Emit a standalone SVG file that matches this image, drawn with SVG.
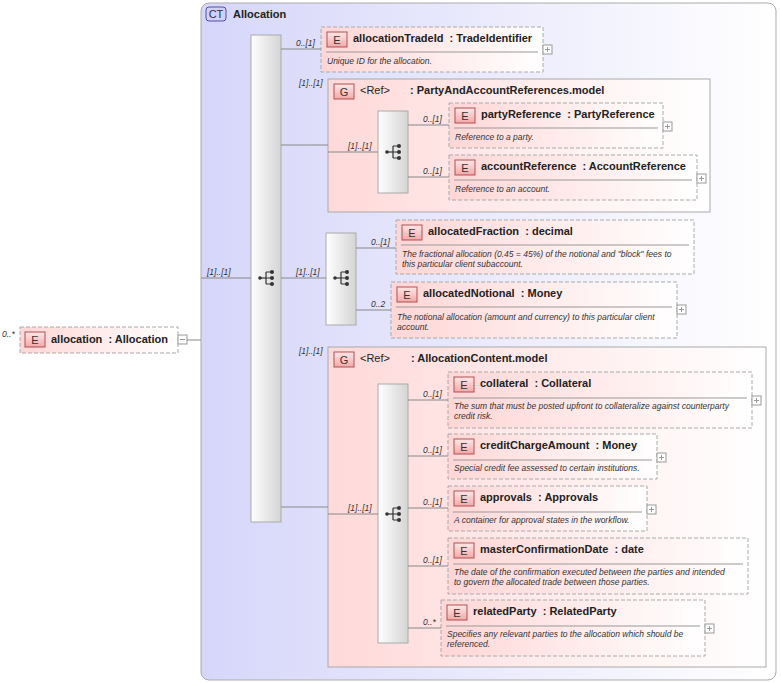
<svg xmlns="http://www.w3.org/2000/svg" width="781" height="683" viewBox="0 0 781 683">
<defs>
<linearGradient id="ct" x1="0" y1="0" x2="1" y2="0"><stop offset="0" stop-color="#d6d6fa"/><stop offset="1" stop-color="#ffffff"/></linearGradient>
<linearGradient id="el" x1="0" y1="0" x2="1" y2="0"><stop offset="0" stop-color="#ffd6d6"/><stop offset="1" stop-color="#ffffff"/></linearGradient>
<linearGradient id="gr" x1="0" y1="0" x2="1" y2="0"><stop offset="0" stop-color="#ffd9d9"/><stop offset="1" stop-color="#ffffff"/></linearGradient>
<linearGradient id="bar" x1="0" y1="0" x2="1" y2="0"><stop offset="0" stop-color="#ffffff"/><stop offset="1" stop-color="#d4d4d4"/></linearGradient>
<linearGradient id="badge" x1="0" y1="0" x2="0" y2="1"><stop offset="0" stop-color="#ffe8e8"/><stop offset="1" stop-color="#f4a8a8"/></linearGradient>
<g id="seqicon"><line x1="-6" y1="0" x2="0" y2="0" stroke="#333" stroke-width="1.2"/><circle cx="-6" cy="0" r="1.8" fill="#333"/><path d="M0,-6V6M0,-6H5M0,0H5M0,6H5" stroke="#333" fill="none" stroke-width="1.2"/><circle cx="6" cy="-6" r="2" fill="#333"/><circle cx="6" cy="0" r="2" fill="#333"/><circle cx="6" cy="6" r="2" fill="#333"/></g>
<g id="plus"><rect x="0" y="0" width="9" height="9" fill="#fff" stroke="#999"/><path d="M2,4.5H7M4.5,2V7" stroke="#999"/></g>
</defs>
<style>
.el{fill:url(#el);stroke:#aaa;stroke-dasharray:4,2}
.grp{fill:url(#gr);stroke:#aaa}
.bar{fill:url(#bar);stroke:#aaa}
.bd{fill:url(#badge);stroke:#b05050}
.bt{font-family:"Liberation Sans",Arial,sans-serif;font-size:11px;fill:#333;text-anchor:middle}
.nm{font-family:"Liberation Sans",Arial,sans-serif;font-size:11px;font-weight:bold;fill:#222;white-space:pre}
.gn{font-family:"Liberation Sans",Arial,sans-serif;font-size:11px;fill:#222}
.doc{font-family:"Liberation Sans",Arial,sans-serif;font-size:8.5px;font-style:italic;fill:#333}
.m{font-family:"Liberation Sans",Arial,sans-serif;font-size:8.5px;font-style:italic;fill:#333}
.sep{stroke:#999}
.c{stroke:#888;fill:none}
</style>
<g id="ct-allocation">
<rect x="201" y="3" width="575" height="677" rx="8" fill="url(#ct)" stroke="#aaa"/>
<rect x="206" y="7" width="20" height="14" rx="3" fill="#d0d0ff" stroke="#5050a0"/><text class="bt" x="216" y="18">CT</text>
<text class="nm" x="233" y="18">Allocation</text>
</g>
<g id="allocation">
<rect class="el" x="20" y="327" width="158" height="26"/>
<rect class="bd" x="25" y="332" width="20" height="15"/><text class="bt" x="35" y="344">E</text>
<text class="nm" x="51" y="343">allocation  : Allocation</text>
<rect x="178" y="335" width="9" height="9" fill="#fff" stroke="#999"/><path d="M180,339.5H185" stroke="#999"/>
</g>
<g id="seq-main"><rect class="bar" x="251" y="35" width="30" height="487"/><use href="#seqicon" x="266" y="278"/></g>
<g id="allocationTradeId">
<rect class="el" x="321" y="27" width="222" height="45"/>
<rect class="bd" x="327" y="32" width="20" height="15"/><text class="bt" x="337" y="44">E</text>
<text class="nm" x="353" y="42">allocationTradeId  : TradeIdentifier</text>
<line class="sep" x1="326" y1="52" x2="538" y2="52"/>
<text class="doc" x="327" y="64">Unique ID for the allocation.</text>
<use href="#plus" x="543" y="45"/>
</g>
<g id="group-party">
<rect class="grp" x="328" y="79" width="382" height="133"/>
<rect class="bd" x="334" y="84" width="20" height="15"/><text class="bt" x="344" y="96">G</text>
<text class="gn" x="360" y="94">&lt;Ref&gt;</text><text class="nm" x="410" y="94">: PartyAndAccountReferences.model</text>
<rect class="bar" x="378" y="111" width="30" height="82"/><use href="#seqicon" x="393" y="152"/>
</g>
<g id="partyReference">
<rect class="el" x="449" y="103" width="214" height="45"/>
<rect class="bd" x="455" y="108" width="20" height="15"/><text class="bt" x="465" y="120">E</text>
<text class="nm" x="481" y="118">partyReference  : PartyReference</text>
<line class="sep" x1="454" y1="128" x2="658" y2="128"/>
<text class="doc" x="455" y="140">Reference to a party.</text>
<use href="#plus" x="663" y="122"/>
</g>
<g id="accountReference">
<rect class="el" x="449" y="155" width="248" height="45"/>
<rect class="bd" x="455" y="160" width="20" height="15"/><text class="bt" x="465" y="172">E</text>
<text class="nm" x="481" y="170">accountReference  : AccountReference</text>
<line class="sep" x1="454" y1="180" x2="692" y2="180"/>
<text class="doc" x="455" y="192">Reference to an account.</text>
<use href="#plus" x="697" y="174"/>
</g>
<g id="seq-fraction"><rect class="bar" x="326" y="233" width="30" height="92"/><use href="#seqicon" x="341" y="278"/></g>
<g id="allocatedFraction">
<rect class="el" x="396" y="220" width="298" height="54"/>
<rect class="bd" x="402" y="225" width="20" height="15"/><text class="bt" x="412" y="237">E</text>
<text class="nm" x="428" y="235">allocatedFraction  : decimal</text>
<line class="sep" x1="401" y1="245" x2="689" y2="245"/>
<text class="doc" x="402" y="257">The fractional allocation (0.45 = 45%) of the notional and "block" fees to</text>
<text class="doc" x="402" y="267">this particular client subaccount.</text>
</g>
<g id="allocatedNotional">
<rect class="el" x="391" y="282" width="286" height="56"/>
<rect class="bd" x="397" y="287" width="20" height="15"/><text class="bt" x="407" y="299">E</text>
<text class="nm" x="423" y="297">allocatedNotional  : Money</text>
<line class="sep" x1="396" y1="307" x2="672" y2="307"/>
<text class="doc" x="397" y="320">The notional allocation (amount and currency) to this particular client</text>
<text class="doc" x="397" y="330">account.</text>
<use href="#plus" x="677" y="305"/>
</g>
<g id="group-content">
<rect class="grp" x="328" y="347" width="438" height="320"/>
<rect class="bd" x="334" y="352" width="20" height="15"/><text class="bt" x="344" y="364">G</text>
<text class="gn" x="360" y="362">&lt;Ref&gt;</text><text class="nm" x="411" y="362">: AllocationContent.model</text>
<rect class="bar" x="378" y="384" width="30" height="259"/><use href="#seqicon" x="393" y="514"/>
</g>
<g id="collateral">
<rect class="el" x="448" y="372" width="304" height="56"/>
<rect class="bd" x="454" y="377" width="20" height="15"/><text class="bt" x="464" y="389">E</text>
<text class="nm" x="480" y="387">collateral  : Collateral</text>
<line class="sep" x1="453" y1="398" x2="747" y2="398"/>
<text class="doc" x="454" y="409">The sum that must be posted upfront to collateralize against counterparty</text>
<text class="doc" x="454" y="419">credit risk.</text>
<use href="#plus" x="752" y="396"/>
</g>
<g id="creditChargeAmount">
<rect class="el" x="448" y="434" width="209" height="45"/>
<rect class="bd" x="454" y="439" width="20" height="15"/><text class="bt" x="464" y="451">E</text>
<text class="nm" x="480" y="449">creditChargeAmount  : Money</text>
<line class="sep" x1="453" y1="460" x2="652" y2="460"/>
<text class="doc" x="454" y="471">Special credit fee assessed to certain institutions.</text>
<use href="#plus" x="657" y="453"/>
</g>
<g id="approvals">
<rect class="el" x="448" y="486" width="199" height="45"/>
<rect class="bd" x="454" y="491" width="20" height="15"/><text class="bt" x="464" y="503">E</text>
<text class="nm" x="480" y="501">approvals  : Approvals</text>
<line class="sep" x1="453" y1="512" x2="642" y2="512"/>
<text class="doc" x="454" y="523">A container for approval states in the workflow.</text>
<use href="#plus" x="647" y="505"/>
</g>
<g id="masterConfirmationDate">
<rect class="el" x="448" y="538" width="300" height="56"/>
<rect class="bd" x="454" y="543" width="20" height="15"/><text class="bt" x="464" y="555">E</text>
<text class="nm" x="480" y="553">masterConfirmationDate  : date</text>
<line class="sep" x1="453" y1="564" x2="743" y2="564"/>
<text class="doc" x="454" y="575">The date of the confirmation executed between the parties and intended</text>
<text class="doc" x="454" y="585">to govern the allocated trade between those parties.</text>
</g>
<g id="relatedParty">
<rect class="el" x="441" y="600" width="264" height="56"/>
<rect class="bd" x="447" y="605" width="20" height="15"/><text class="bt" x="457" y="617">E</text>
<text class="nm" x="473" y="615">relatedParty  : RelatedParty</text>
<line class="sep" x1="446" y1="626" x2="700" y2="626"/>
<text class="doc" x="447" y="637">Specifies any relevant parties to the allocation which should be</text>
<text class="doc" x="447" y="647">referenced.</text>
<use href="#plus" x="705" y="624"/>
</g>
<g id="connectors">
<path class="c" d="M187,340H201M201,278H251M281,49H321M281,145H328M328,152H378M408,125H449M408,177H449M281,278H326M356,248H396M356,310H391M281,507H328M328,514H378M408,400H448M408,456H448M408,508H448M408,566H448M408,628H441"/>
<text class="m" x="2" y="337">0..*</text>
<text class="m" x="207" y="275">[1]..[1]</text>
<text class="m" x="296" y="46">0..[1]</text>
<text class="m" x="299" y="86">[1]..[1]</text>
<text class="m" x="348" y="149">[1]..[1]</text>
<text class="m" x="423" y="122">0..[1]</text>
<text class="m" x="423" y="174">0..[1]</text>
<text class="m" x="296" y="275">[1]..[1]</text>
<text class="m" x="371" y="245">0..[1]</text>
<text class="m" x="371" y="307">0..2</text>
<text class="m" x="299" y="354">[1]..[1]</text>
<text class="m" x="348" y="511">[1]..[1]</text>
<text class="m" x="423" y="397">0..[1]</text>
<text class="m" x="423" y="453">0..[1]</text>
<text class="m" x="423" y="505">0..[1]</text>
<text class="m" x="423" y="563">0..[1]</text>
<text class="m" x="423" y="625">0..*</text>
</g>
</svg>
